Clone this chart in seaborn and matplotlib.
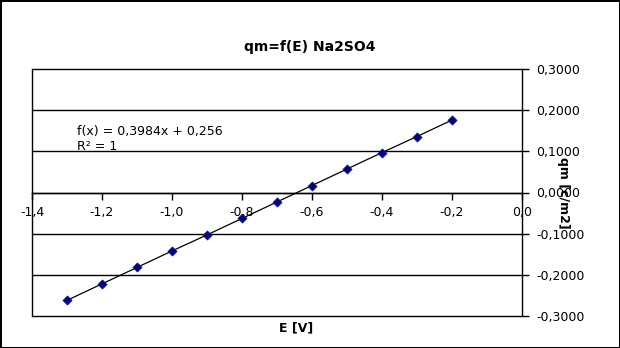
import matplotlib
matplotlib.use("Agg")
import matplotlib.pyplot as plt
import seaborn as sns
import pandas as pd

E_values = [-1.3, -1.2, -1.1, -1.0, -0.9, -0.8, -0.7, -0.6, -0.5, -0.4, -0.3, -0.2]
qm_values = [-0.262, -0.222, -0.182, -0.142, -0.103, -0.063, -0.023, 0.017, 0.057, 0.097, 0.136, 0.176]
x_ticks = [-1.4, -1.2, -1.0, -0.8, -0.6, -0.4, -0.2, 0.0]
y_ticks = [-0.3, -0.2, -0.1, 0.0, 0.1, 0.2, 0.3]
title = "qm=f(E) Na2SO4"
x_label = "E [V]"
y_label = "qm [c/m2]"
trend_text = "f(x) = 0,3984x + 0,256\nR² = 1"

sns.set_style("white")
plt.rcParams['font.family'] = ['DejaVu Sans']
plt.rcParams['text.color'] = 'black'
plt.rcParams['axes.labelcolor'] = 'black'
plt.rcParams['xtick.color'] = 'black'
plt.rcParams['ytick.color'] = 'black'

df = pd.DataFrame({"E": E_values, "qm": qm_values})

fig = plt.figure(figsize=(6.2, 3.48), dpi=100)
fig.patch.set_edgecolor("black")
fig.patch.set_linewidth(2)
ax = fig.add_axes([32/620, 1 - 316/348, 490/620, 247/348])

sns.lineplot(data=df, x="E", y="qm", ax=ax, color="black", linewidth=0.9, zorder=3)
sns.scatterplot(data=df, x="E", y="qm", ax=ax, marker="D", s=22, color="#000080",
                edgecolor="#1a1aa0", linewidth=0.5, zorder=4)

ax.set_xlim(-1.4, 0.0)
ax.set_ylim(-0.3, 0.3)
ax.set_xticks(x_ticks)
ax.set_xticklabels([f"{v:.1f}".replace(".", ",") for v in x_ticks])
ax.set_yticks(y_ticks)
ax.set_yticklabels([f"{v:.4f}".replace(".", ",").replace("-0,0000", "0,0000") for v in y_ticks])

for y in y_ticks:
    ax.axhline(y, color="black", linewidth=1, zorder=1, clip_on=False)

ax.spines['bottom'].set_position(('data', 0))
for s in ['left', 'right', 'bottom', 'top']:
    ax.spines[s].set_color('black')
    ax.spines[s].set_linewidth(1)
ax.spines['top'].set_visible(False)

ax.yaxis.tick_right()
ax.tick_params(axis='y', which='both', right=True, left=False, direction='out',
               length=5, width=1, colors='black', labelsize=9, pad=5)
ax.tick_params(axis='x', which='both', bottom=True, direction='out', length=5,
               width=1, colors='black', labelsize=9, pad=5)

ax.set_xlabel(x_label, fontsize=9, fontweight='bold', va='center')
ax.xaxis.set_label_coords(0.54, -0.05)
ax.yaxis.set_label_position('right')
ax.set_ylabel(y_label, fontsize=9, fontweight='bold', rotation=270, va='center')
ax.yaxis.set_label_coords(1.085, 0.5)

fig.suptitle(title, x=310/620, y=1 - 47/348, va='center', fontsize=10, fontweight='bold')
ax.text(-1.271, 0.130, trend_text, fontsize=9, va='center', ha='left', linespacing=1.15)

fig.savefig("out.png", dpi=100)
